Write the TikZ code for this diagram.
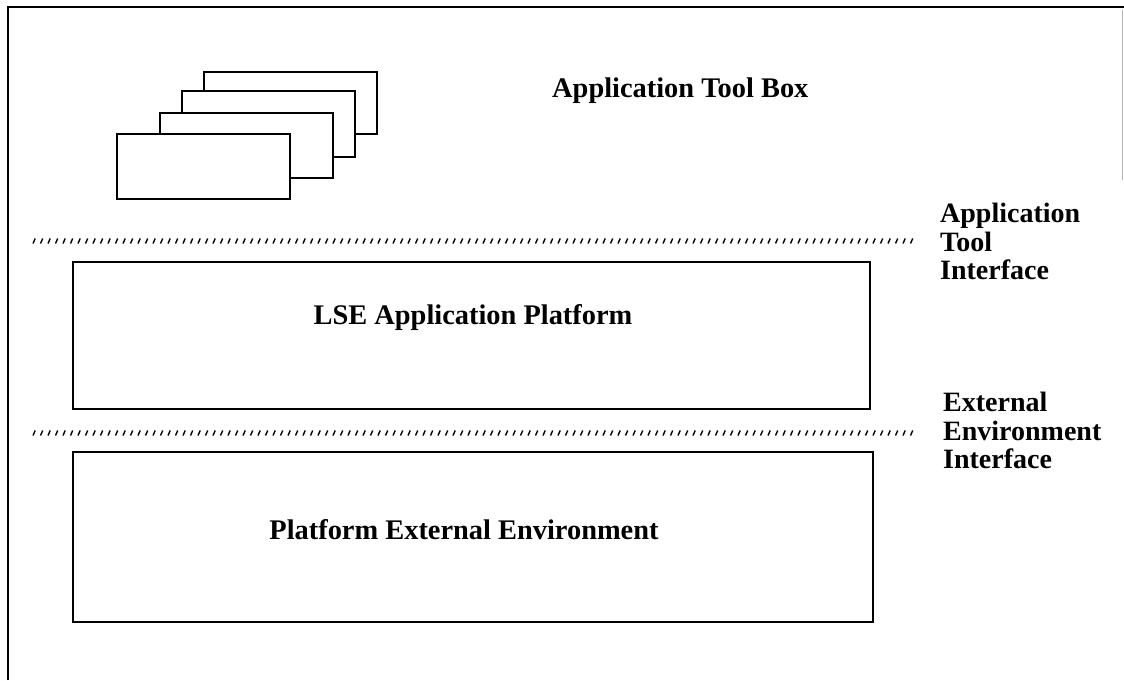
\documentclass[tikz,border=0pt]{standalone}
\usepackage{fontspec}
\setmainfont{Liberation Serif}
\begin{document}
\begin{tikzpicture}[x=1pt,y=-1pt,
  frame/.style={line width=2pt},
  card/.style={draw, line width=2pt, fill=white},
  layer/.style={draw, line width=1.6pt},
  lbl/.style={font=\fontsize{28.4}{28}\selectfont\bfseries, inner sep=0pt},
  rlbl/.style={font=\fontsize{28}{28.5}\selectfont\bfseries, inner sep=0pt, align=left, anchor=north west},
  tick/.style={line width=1.4pt}]
\useasboundingbox (0,0) rectangle (1124,680);
% outer frame (cropped)
\draw[frame] (8,680) -- (8,7) -- (1124,7);
\draw[line width=1pt, gray!60] (1122,10) -- (1122,180);
% stacked tool cards
\node[card, minimum width=173pt, minimum height=62pt, anchor=north west] (c4) at (203,71) {};
\node[card, minimum width=173pt, minimum height=66pt, anchor=north west] (c3) at (181,90) {};
\node[card, minimum width=173pt, minimum height=65pt, anchor=north west] (c2) at (159,112) {};
\node[card, minimum width=173pt, minimum height=65pt, anchor=north west] (c1) at (116,133) {};
\node[lbl, anchor=base west] (atb) at (552,97) {Application Tool Box};
% interface lines
\foreach \yy in {241,433}{
  \foreach \xx in {33,40.5,...,912}{
    \draw[tick] (\xx,\yy+2.5) -- (\xx+2.2,\yy-2.5);
  }
}
\node[rlbl] (ati) at (940,203) {Application\\Tool\\Interface};
\node[rlbl] (eei) at (943,392) {External\\Environment\\Interface};
% layers
\draw[layer] (73,262) rectangle (870,409);
\node[lbl] (lse) at (473,318) {LSE Application Platform};
\draw[layer] (73,452) rectangle (873,622);
\node[lbl] (pee) at (464,530) {Platform External Environment};
\end{tikzpicture}
\end{document}
